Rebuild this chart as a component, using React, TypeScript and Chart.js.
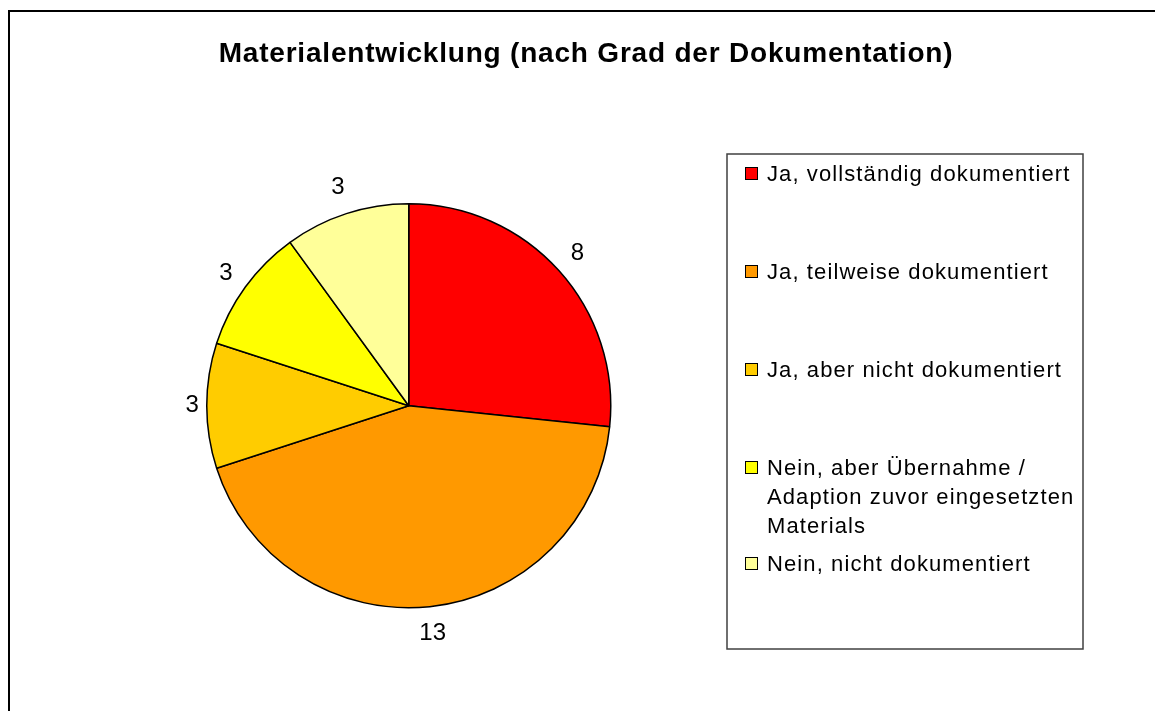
import React, { useEffect, useRef } from "react";
import { Chart, registerables } from "chart.js";

Chart.register(...registerables);

const TITLE = "Materialentwicklung (nach Grad der Dokumentation)";
const categories = [
  "Ja, vollständig dokumentiert",
  "Ja, teilweise dokumentiert",
  "Ja, aber nicht dokumentiert",
  "Nein, aber Übernahme / Adaption zuvor eingesetzten Materials",
  "Nein, nicht dokumentiert",
];
const legendLines = [
  ["Ja, vollständig dokumentiert"],
  ["Ja, teilweise dokumentiert"],
  ["Ja, aber nicht dokumentiert"],
  ["Nein, aber Übernahme /", "Adaption zuvor eingesetzten", "Materials"],
  ["Nein, nicht dokumentiert"],
];
const values = [8, 13, 3, 3, 3];
const colors = ["#FF0000", "#FF9900", "#FFCC00", "#FFFF00", "#FFFF99"];

const W = 1155;
const H = 711;
const FONT = "'Liberation Sans', Arial, sans-serif";

const decorPlugin = {
  id: "decor",
  beforeDraw(chart: any) {
    const ctx = chart.ctx;
    ctx.save();
    ctx.fillStyle = "#ffffff";
    ctx.fillRect(0, 0, W, H);
    // outer frame (extends beyond right/bottom)
    ctx.strokeStyle = "#000000";
    ctx.lineWidth = 2;
    ctx.beginPath();
    ctx.moveTo(9, H + 5);
    ctx.lineTo(9, 11);
    ctx.lineTo(W + 5, 11);
    ctx.stroke();
    // title
    ctx.fillStyle = "#000000";
    ctx.font = `bold 28px ${FONT}`;
    (ctx as any).letterSpacing = "0.8px";
    ctx.textAlign = "center";
    ctx.textBaseline = "alphabetic";
    ctx.fillText(TITLE, 586, 62);
    ctx.restore();
  },
  afterDraw(chart: any) {
    const ctx = chart.ctx;
    ctx.save();
    // legend box
    ctx.strokeStyle = "#404040";
    ctx.lineWidth = 1.5;
    ctx.strokeRect(727, 154, 356, 495);
    const baselines = [181, 279, 377, 475, 571];
    ctx.font = `22px ${FONT}`;
    (ctx as any).letterSpacing = "1.1px";
    ctx.textAlign = "left";
    ctx.textBaseline = "alphabetic";
    legendLines.forEach((lines, i) => {
      const by = baselines[i];
      ctx.fillStyle = colors[i];
      ctx.fillRect(745, by - 14, 13, 13);
      ctx.strokeStyle = "#000000";
      ctx.lineWidth = 1;
      ctx.strokeRect(745.5, by - 13.5, 12, 12);
      ctx.fillStyle = "#000000";
      lines.forEach((ln, j) => {
        ctx.fillText(ln, 767, by + j * 29);
      });
    });
    // data labels
    const meta = chart.getDatasetMeta(0);
    ctx.font = `24px ${FONT}`;
    (ctx as any).letterSpacing = "0px";
    ctx.textAlign = "center";
    ctx.textBaseline = "middle";
    meta.data.forEach((arc: any, i: number) => {
      const mid = (arc.startAngle + arc.endAngle) / 2;
      const cx = Math.cos(mid);
      const sy = Math.sin(mid);
      const txt = String(values[i]);
      const tw = ctx.measureText(txt).width;
      const half = Math.abs(cx) * (tw / 2) + Math.abs(sy) * 18;
      const d = arc.outerRadius + 8 + half;
      ctx.fillStyle = "#000000";
      ctx.fillText(txt, arc.x + cx * d, arc.y + sy * d);
    });
    ctx.restore();
  },
};

export default function App() {
  const ref = useRef<HTMLCanvasElement | null>(null);
  useEffect(() => {
    if (!ref.current) return;
    const chart = new Chart(ref.current, {
      type: "pie",
      data: {
        labels: categories,
        datasets: [
          {
            data: values,
            backgroundColor: colors,
            borderColor: "#000000",
            borderWidth: 1.5,
            borderAlign: "center",
          } as any,
        ],
      },
      options: {
        responsive: false,
        animation: false,
        devicePixelRatio: 1,
        layout: { padding: { left: 206, top: 203, right: 543.5, bottom: 102.5 } },
        plugins: {
          legend: { display: false },
          title: { display: false },
          tooltip: { enabled: false },
        },
      },
      plugins: [decorPlugin],
    });
    return () => chart.destroy();
  }, []);
  return (
    <div style={{ position: "fixed", left: 0, top: 0, width: W, height: H, background: "#fff" }}>
      <canvas ref={ref} width={W} height={H} style={{ width: W, height: H, display: "block" }} />
    </div>
  );
}
